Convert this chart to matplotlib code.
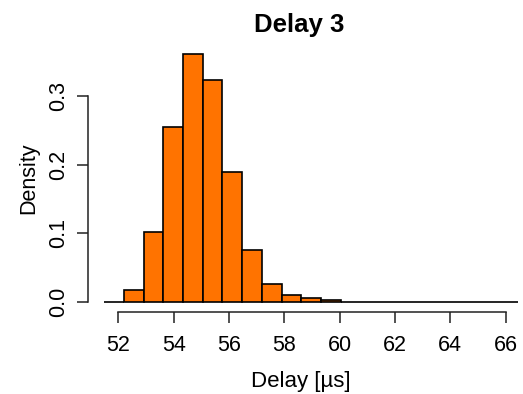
import numpy as np
import matplotlib
matplotlib.use("Agg")
import matplotlib.pyplot as plt

plt.rcParams['font.family'] = ['Liberation Sans', 'DejaVu Sans']

# histogram of delay values: bin edges start and width, density per bin
bin_start = 51.49
bin_width = 0.712
density = [0.0, 0.0175, 0.1015, 0.255, 0.361, 0.323, 0.189, 0.0757,
           0.0262, 0.0098, 0.0058, 0.0029,
           0.0, 0.0, 0.0, 0.0, 0.0, 0.0, 0.0, 0.0, 0.0]
x_ticks = [52, 54, 56, 58, 60, 62, 64, 66]
y_ticks = [0.0, 0.1, 0.2, 0.3]

W, H = 523, 394
fig = plt.figure(figsize=(W / 100, H / 100), dpi=100)
ax = fig.add_axes([88 / W, (H - 312) / H, 442 / W, (312 - 44.5) / H])

lefts = bin_start + bin_width * np.arange(len(density))
ax.bar(lefts, density, width=bin_width, align='edge', color='#ff7300',
       edgecolor='black', linewidth=1.2)

ax.set_xlim(50.9, 66.88)
ax.set_ylim(-0.0144, 0.375)

for s in ['top', 'right']:
    ax.spines[s].set_visible(False)
ax.spines['left'].set_bounds(0, 0.3)
ax.spines['bottom'].set_bounds(52, 66)
for s in ['left', 'bottom']:
    ax.spines[s].set_color('#222222')
    ax.spines[s].set_linewidth(1.1)

ax.set_xticks(x_ticks)
ax.set_xticklabels([str(t) for t in x_ticks])
ax.set_yticks(y_ticks)
ax.set_yticklabels([f"{t:.1f}" for t in y_ticks], rotation=90, va='center')
ax.tick_params(axis='both', length=7.8, width=1.1, color='#222222',
               labelsize=15.5)
ax.tick_params(axis='x', pad=9)
ax.tick_params(axis='y', pad=6)

fig.text(299 / W, 1 - 22.5 / H, "Delay 3", ha='center', va='center_baseline',
         fontsize=18.5, fontweight='bold')
fig.text(301 / W, 1 - 386.5 / H, "Delay [µs]", ha='center', va='baseline',
         fontsize=16)
fig.text(29 / W, 1 - 178 / H, "Density", ha='center', va='center',
         fontsize=15.5, rotation=90)

fig.savefig("out.png", dpi=100)
